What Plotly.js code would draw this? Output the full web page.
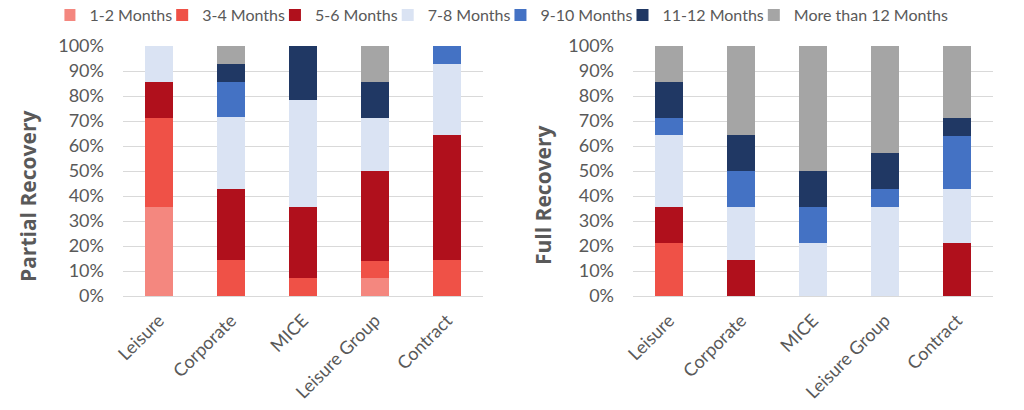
<!DOCTYPE html>
<html>
<head>
<meta charset="utf-8">
<script src="https://cdn.plot.ly/plotly-3.0.1.min.js"></script>
<style>html,body{margin:0;padding:0;background:#fff;}#chart{width:1024px;height:410px;}</style>
</head>
<body>
<div id="chart"></div>
<script>
const categories = ["Leisure", "Corporate", "MICE", "Leisure Group", "Contract"];
const seriesNames = ["1-2 Months", "3-4 Months", "5-6 Months", "7-8 Months", "9-10 Months", "11-12 Months", "More than 12 Months"];
const seriesColors = ["#F4877F", "#EF5147", "#B0101C", "#DAE3F3", "#4472C4", "#203864", "#A5A5A5"];
const yTickVals = [0, 10, 20, 30, 40, 50, 60, 70, 80, 90, 100];
const yTickText = ["0%", "10%", "20%", "30%", "40%", "50%", "60%", "70%", "80%", "90%", "100%"];

// Partial Recovery (% of respondents)
const partial_1_2   = [35.7, 0,    0,    7.1,  0];
const partial_3_4   = [35.7, 14.3, 7.1,  7.1,  14.3];
const partial_5_6   = [14.3, 28.6, 28.6, 35.7, 50.0];
const partial_7_8   = [14.3, 28.6, 42.9, 21.4, 28.6];
const partial_9_10  = [0,    14.3, 0,    0,    7.1];
const partial_11_12 = [0,    7.1,  21.4, 14.3, 0];
const partial_12p   = [0,    7.1,  0,    14.3, 0];

// Full Recovery (% of respondents)
const full_1_2   = [0,    0,    0,    0,    0];
const full_3_4   = [21.4, 0,    0,    0,    0];
const full_5_6   = [14.3, 14.3, 0,    0,    21.4];
const full_7_8   = [28.6, 21.4, 21.4, 35.7, 21.4];
const full_9_10  = [7.1,  14.3, 14.3, 7.1,  21.4];
const full_11_12 = [14.3, 14.3, 14.3, 14.3, 7.1];
const full_12p   = [14.3, 35.7, 50.0, 42.9, 28.6];

const partialSeries = [partial_1_2, partial_3_4, partial_5_6, partial_7_8, partial_9_10, partial_11_12, partial_12p];
const fullSeries = [full_1_2, full_3_4, full_5_6, full_7_8, full_9_10, full_11_12, full_12p];

const FONT = "Lato, 'Open Sans', sans-serif";
const GRAY = "#595959";

const traces = [];
seriesNames.forEach((name, i) => {
  traces.push({type: "bar", name: name, x: categories, y: partialSeries[i], xaxis: "x", yaxis: "y",
    marker: {color: seriesColors[i]}, legendgroup: name, showlegend: true, hoverinfo: "y+name"});
});
seriesNames.forEach((name, i) => {
  traces.push({type: "bar", name: name, x: categories, y: fullSeries[i], xaxis: "x2", yaxis: "y2",
    marker: {color: seriesColors[i]}, legendgroup: name, showlegend: false, hoverinfo: "y+name"});
});

const yAxisBase = {range: [0, 100], tickvals: yTickVals, ticktext: yTickText, showgrid: true,
  gridcolor: "#D9D9D9", gridwidth: 1, zeroline: false, showline: false, ticks: "",
  tickfont: {family: FONT, size: 18, color: GRAY}, ticklabelstandoff: 18, fixedrange: true};
const xAxisBase = {tickangle: -45, showline: true, linecolor: "#D9D9D9", linewidth: 1, ticks: "",
  tickfont: {family: FONT, size: 18, color: GRAY}, ticklabelstandoff: 6, fixedrange: true};

const layout = {
  width: 1024, height: 410,
  margin: {l: 0, r: 0, t: 46, b: 114},
  paper_bgcolor: "#fff", plot_bgcolor: "#fff",
  barmode: "stack", bargap: 0.61,
  showlegend: true,
  legend: {orientation: "h", x: 0.497, xanchor: "center", yref: "container", y: 0.963, yanchor: "middle",
    font: {family: FONT, size: 16, color: GRAY}, traceorder: "normal", itemwidth: 30, indentation: -15,
    tracegroupgap: 0},
  xaxis: Object.assign({}, xAxisBase, {domain: [0.1201, 0.4717], anchor: "y"}),
  yaxis: Object.assign({}, yAxisBase, {domain: [0, 1], anchor: "x"}),
  xaxis2: Object.assign({}, xAxisBase, {domain: [0.6182, 0.9697], anchor: "y2"}),
  yaxis2: Object.assign({}, yAxisBase, {domain: [0, 1], anchor: "x2"}),
  annotations: [
    {text: "<b>Partial Recovery</b>", xref: "paper", yref: "paper", x: 28/1024, y: 0.396, xanchor: "center", yanchor: "middle",
      textangle: -90, showarrow: false, font: {family: "'Open Sans', sans-serif", size: 21, color: GRAY}},
    {text: "<b>Full Recovery</b>", xref: "paper", yref: "paper", x: 543/1024, y: 0.404, xanchor: "center", yanchor: "middle",
      textangle: -90, showarrow: false, font: {family: "'Open Sans', sans-serif", size: 21, color: GRAY}}
  ]
};

Plotly.newPlot("chart", traces, layout, {displayModeBar: false, staticPlot: true});
</script>
</body>
</html>
